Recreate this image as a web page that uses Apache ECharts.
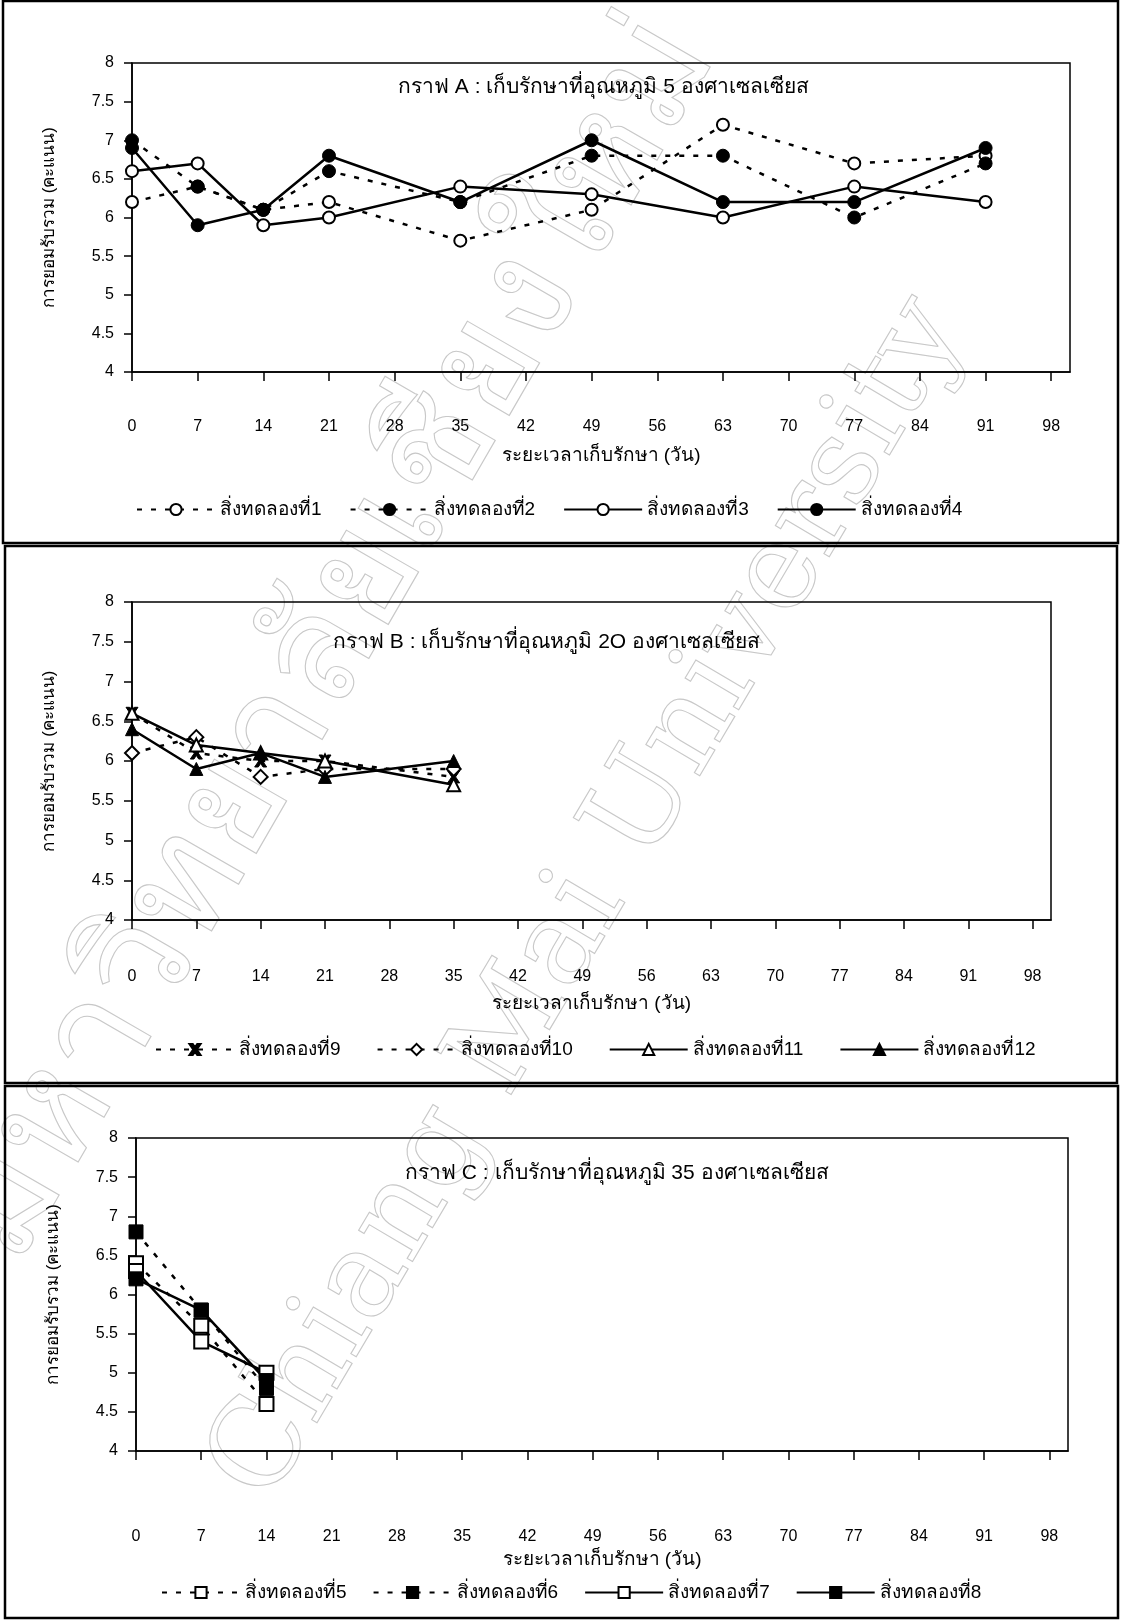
<!DOCTYPE html>
<html>
<head>
<meta charset="utf-8">
<script src="https://cdn.jsdelivr.net/npm/echarts@6/dist/echarts.min.js"></script>
<style>
  html, body { margin: 0; padding: 0; background: #fff; }
  #chart { width: 1121px; height: 1621px; }
</style>
</head>
<body>
<div id="chart"></div>
<script>
// ---- tick labels ----
const dayTicks = [0, 7, 14, 21, 28, 35, 42, 49, 56, 63, 70, 77, 84, 91, 98];

// ---- graph A : storage at 5 °C ----
const daysA = [0, 7, 14, 21, 35, 49, 63, 77, 91];
const t1 = [6.2, 6.4, 6.1, 6.2, 5.7, 6.1, 7.2, 6.7, 6.8];
const t2 = [7.0, 6.4, 6.1, 6.6, 6.2, 6.8, 6.8, 6.0, 6.7];
const t3 = [6.6, 6.7, 5.9, 6.0, 6.4, 6.3, 6.0, 6.4, 6.2];
const t4 = [6.9, 5.9, 6.1, 6.8, 6.2, 7.0, 6.2, 6.2, 6.9];

// ---- graph B : storage at 20 °C ----
const daysB = [0, 7, 14, 21, 35];
const t9  = [6.6, 6.1, 6.0, 6.0, 5.8];
const t10 = [6.1, 6.3, 5.8, 5.9, 5.9];
const t11 = [6.6, 6.2, 6.1, 6.0, 5.7];
const t12 = [6.4, 5.9, 6.1, 5.8, 6.0];

// ---- graph C : storage at 35 °C ----
const daysC = [0, 7, 14];
const t5 = [6.4, 5.6, 4.6];
const t6 = [6.8, 5.8, 4.8];
const t7 = [6.3, 5.4, 5.0];
const t8 = [6.2, 5.8, 4.9];

// ---- texts ----
const titleA = 'กราฟ A : เก็บรักษาที่อุณหภูมิ 5 องศาเซลเซียส';
const titleB = 'กราฟ B : เก็บรักษาที่อุณหภูมิ 2O องศาเซลเซียส';
const titleC = 'กราฟ C : เก็บรักษาที่อุณหภูมิ 35 องศาเซลเซียส';
const yName = 'การยอมรับรวม (คะแนน)';
const xName = 'ระยะเวลาเก็บรักษา (วัน)';
const seriesName = n => 'สิ่งทดลองที่' + n;
const markThai = 'มหาวิทยาลัยเชียงใหม่';
const markEng = 'Chiang Mai University';

const FONT = '"Liberation Sans", "Noto Sans", "DejaVu Sans", sans-serif';
const BLACK = '#000';

const pair = (xs, ys) => xs.map((x, i) => [x, ys[i]]);

// marker and line styles
const openStyle = { color: '#fff', borderColor: BLACK, borderWidth: 2 };
const fillStyle = { color: BLACK, borderColor: BLACK, borderWidth: 1 };
const dashed = { color: BLACK, width: 2.5, type: [5, 9] };
const solid = { color: BLACK, width: 2.5, type: 'solid' };
const crossPath = 'path://M0,0 L3,0 L5,3 L7,0 L10,0 L6.6,5 L10,10 L7,10 L5,7 L3,10 L0,10 L3.4,5 Z';

function mkSeries(name, idx, xs, ys, symbol, size, open, line) {
  return {
    name: name,
    type: 'line',
    xAxisIndex: idx,
    yAxisIndex: idx,
    data: pair(xs, ys),
    symbol: symbol,
    symbolSize: size,
    showAllSymbol: true,
    lineStyle: line,
    itemStyle: open ? openStyle : fillStyle,
    emphasis: { disabled: true },
    z: 3
  };
}

const grids = [
  { left: 132, top: 63, width: 938, height: 309 },
  { left: 132, top: 602, width: 919, height: 318 },
  { left: 136, top: 1138, width: 932, height: 313 }
];
const labelMargins = [47, 49, 78];
const nameGaps = [74, 74, 99];

const xAxes = grids.map((g, i) => ({
  type: 'value',
  gridIndex: i,
  min: 0,
  max: 100,
  axisLine: { show: true, onZero: false, lineStyle: { color: BLACK, width: 1.5 } },
  axisTick: { show: true, inside: false, length: 9, customValues: dayTicks, lineStyle: { color: BLACK, width: 1.5 } },
  axisLabel: { customValues: dayTicks, margin: labelMargins[i], color: BLACK, fontSize: 16, fontFamily: FONT },
  splitLine: { show: false },
  name: xName,
  nameLocation: 'middle',
  nameGap: nameGaps[i],
  nameTextStyle: { color: BLACK, fontSize: 19, fontFamily: FONT }
}));

const yAxes = grids.map((g, i) => ({
  type: 'value',
  gridIndex: i,
  min: 4,
  max: 8,
  interval: 0.5,
  axisLine: { show: true, lineStyle: { color: BLACK, width: 1.5 } },
  axisTick: { show: true, inside: false, length: 8, lineStyle: { color: BLACK, width: 1.5 } },
  axisLabel: { margin: 18, color: BLACK, fontSize: 16, fontFamily: FONT },
  splitLine: { show: false },
  name: yName,
  nameLocation: 'middle',
  nameRotate: 90,
  nameGap: 74,
  nameTextStyle: { color: BLACK, fontSize: 17, fontFamily: FONT }
}));

const series = [
  mkSeries(seriesName(1), 0, daysA, t1, 'circle', 12, true, dashed),
  mkSeries(seriesName(2), 0, daysA, t2, 'circle', 13, false, dashed),
  mkSeries(seriesName(3), 0, daysA, t3, 'circle', 12, true, solid),
  mkSeries(seriesName(4), 0, daysA, t4, 'circle', 13, false, solid),

  mkSeries(seriesName(9), 1, daysB, t9, crossPath, 12, false, dashed),
  mkSeries(seriesName(10), 1, daysB, t10, 'diamond', 14, true, dashed),
  mkSeries(seriesName(11), 1, daysB, t11, 'triangle', 13, true, solid),
  mkSeries(seriesName(12), 1, daysB, t12, 'triangle', 13, false, solid),

  mkSeries(seriesName(5), 2, daysC, t5, 'rect', 14, true, dashed),
  mkSeries(seriesName(6), 2, daysC, t6, 'rect', 14, false, dashed),
  mkSeries(seriesName(7), 2, daysC, t7, 'rect', 14, true, solid),
  mkSeries(seriesName(8), 2, daysC, t8, 'rect', 14, false, solid)
];

const legendBase = {
  orient: 'horizontal',
  itemWidth: 78,
  itemHeight: 14,
  selectedMode: false,
  textStyle: { color: BLACK, fontSize: 19, fontFamily: FONT }
};

const legends = [
  Object.assign({}, legendBase, { left: 131, top: 495, itemGap: 28, data: [1, 2, 3, 4].map(seriesName) }),
  Object.assign({}, legendBase, { left: 150, top: 1035, itemGap: 36, data: [9, 10, 11, 12].map(seriesName) }),
  Object.assign({}, legendBase, { left: 156, top: 1578, itemGap: 26, data: [5, 6, 7, 8].map(seriesName) })
];

const titleStyle = { color: BLACK, fontSize: 21, fontWeight: 'normal', fontFamily: FONT };
const titles = [
  { text: titleA, left: 393, top: 72, textStyle: titleStyle },
  { text: titleB, left: 328, top: 627, textStyle: titleStyle },
  { text: titleC, left: 400, top: 1158, textStyle: titleStyle }
];

// panel frames around each graph
const frameStyle = { fill: 'none', stroke: BLACK, lineWidth: 2.5 };
const frames = [
  { type: 'rect', shape: { x: 3, y: 1, width: 1115, height: 542 }, style: frameStyle, silent: true, z: 10 },
  { type: 'rect', shape: { x: 5, y: 546, width: 1112, height: 537 }, style: frameStyle, silent: true, z: 10 },
  { type: 'rect', shape: { x: 5, y: 1086, width: 1113, height: 532 }, style: frameStyle, silent: true, z: 10 }
];

// faint outlined university mark running diagonally across the page
const markStyle = { fill: 'none', stroke: '#c8c8c8', lineWidth: 1.1, align: 'center', verticalAlign: 'middle' };
const marks = [
  { type: 'text', x: 330, y: 640, rotation: Math.PI / 3, silent: true, z: -10,
    style: Object.assign({ text: markThai, font: '150px "Noto Sans", sans-serif' }, markStyle) },
  { type: 'text', x: 590, y: 900, rotation: Math.PI * 0.33, silent: true, z: -10,
    style: Object.assign({ text: markEng, font: '120px "DejaVu Serif", serif' }, markStyle) }
];

const chart = echarts.init(document.getElementById('chart'), null, { renderer: 'canvas' });
chart.setOption({
  backgroundColor: '#fff',
  animation: false,
  title: titles,
  legend: legends,
  grid: grids.map(g => Object.assign({ show: true, borderColor: BLACK, borderWidth: 1.5, backgroundColor: 'transparent' }, g)),
  xAxis: xAxes,
  yAxis: yAxes,
  series: series,
  graphic: marks.concat(frames)
});
</script>
</body>
</html>
